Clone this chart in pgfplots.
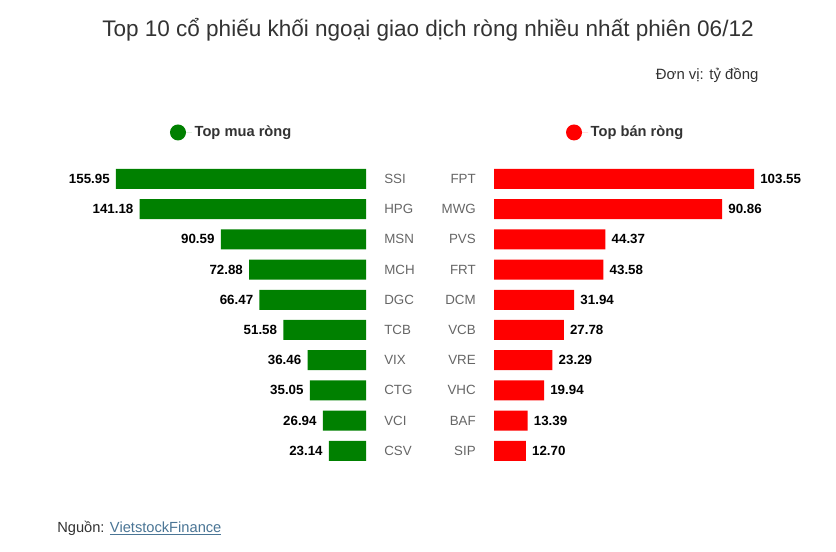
\documentclass[border=0pt]{standalone}
\usepackage{pgfplots}
\pgfplotsset{compat=1.18}
\usepackage{pgfplotstable}
\usepackage{fontspec}
\setmainfont{Liberation Sans}
\definecolor{mygreen}{HTML}{008000}
\definecolor{myred}{HTML}{FF0000}
\definecolor{txt}{HTML}{333333}
\definecolor{cat}{HTML}{666666}
\definecolor{link}{HTML}{4A7595}

\pgfplotstableread{
name val
SSI 155.95
HPG 141.18
MSN 90.59
MCH 72.88
DGC 66.47
TCB 51.58
VIX 36.46
CTG 35.05
VCI 26.94
CSV 23.14
}\buydata

\pgfplotstableread{
name val
FPT 103.55
MWG 90.86
PVS 44.37
FRT 43.58
DCM 31.94
VCB 27.78
VRE 23.29
VHC 19.94
BAF 13.39
SIP 12.70
}\selldata

\pgfplotsset{
  halfbar/.style={
    xbar, scale only axis, clip=false,
    height=226.5pt,
    ymin=-0.5, ymax=9.5, y dir=reverse,
    ytick={0,...,9}, xtick=\empty,
    axis line style={draw=none}, major tick length=0pt,
    bar width=15pt, bar shift=0pt,
    yticklabel style={font=\fontsize{10}{12}\selectfont, text=cat, inner xsep=13.5pt, inner ysep=0pt},
    nodes near coords={\pgfmathprintnumber[fixed,precision=2,fixed zerofill,assume math mode=true]{\pgfplotspointmeta}},
    nodes near coords style={font=\bfseries\fontsize{10}{12}\selectfont, text=black, inner xsep=4.5pt, inner ysep=0pt},
    legend style={draw=none, fill=none, font=\bfseries\fontsize{11}{13}\selectfont, text=txt, anchor=center},
  }
}

\begin{document}
\begin{tikzpicture}
\useasboundingbox (0,0) rectangle (627pt,-414pt);
\fill[white] (0,0) rectangle (627pt,-414pt);

\node[anchor=base, text=txt, font=\fontsize{16.9}{20}\selectfont, inner sep=0pt] at (321pt,-27.75pt) {Top 10 cổ phiếu khối ngoại giao dịch ròng nhiều nhất phiên 06/12};
\node[anchor=base east, text=txt, font=\fontsize{11.2}{13}\selectfont, inner sep=0pt] at (569pt,-59.5pt) {Đơn vị: tỷ đồng};
\node[anchor=base west, font=\fontsize{11}{13}\selectfont, inner sep=0pt] at (42.75pt,-399pt) {\textcolor{txt}{Nguồn: }\textcolor{link}{\underline{VietstockFinance}}};

\begin{axis}[halfbar,
  at={(274.5pt,-122.9pt)}, anchor=north east,
  width=187.5pt, xmin=-155.95, xmax=0,
  yticklabel pos=right,
  yticklabels from table={\buydata}{name},
  nodes near coords align={left},
  legend style={at={(0.464,1.104)}},
  legend image code/.code={\fill[mygreen] (6pt,0pt) circle (6pt); \path (0pt,0pt) -- (16.5pt,0pt);},
]
\addplot[fill=mygreen, draw=none, point meta=\thisrow{val}] table[x expr=-\thisrow{val}, y expr=\coordindex] {\buydata};
\legend{Top mua ròng}
\end{axis}

\begin{axis}[halfbar,
  at={(370.5pt,-122.9pt)}, anchor=north west,
  width=195pt, xmin=0, xmax=103.55,
  yticklabel pos=left,
  yticklabels from table={\selldata}{name},
  nodes near coords align={right},
  legend style={at={(0.5077,1.104)}},
  legend image code/.code={\fill[myred] (6pt,0pt) circle (6pt); \path (0pt,0pt) -- (16.5pt,0pt);},
]
\addplot[fill=myred, draw=none, point meta=\thisrow{val}] table[x=val, y expr=\coordindex] {\selldata};
\legend{Top bán ròng}
\end{axis}
\end{tikzpicture}
\end{document}
